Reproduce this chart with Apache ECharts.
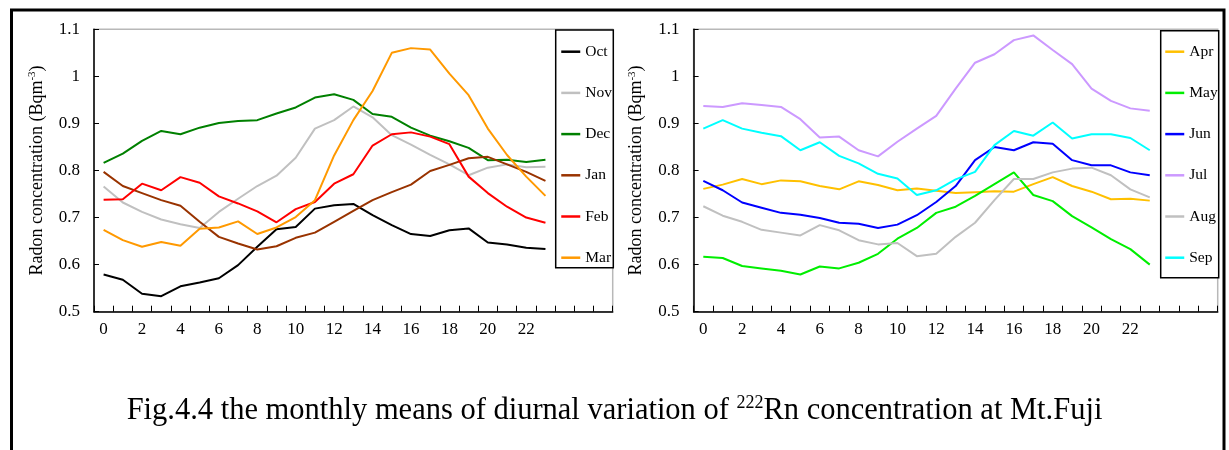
<!DOCTYPE html>
<html>
<head>
<meta charset="utf-8">
<script src="https://cdn.jsdelivr.net/npm/echarts@6/dist/echarts.min.js"></script>
<style>
html,body{margin:0;padding:0;background:#fff;}
#chart{width:1229px;height:450px;}
</style>
</head>
<body>
<div id="chart"></div>
<script>
// ---- data ----
var hours = [0,1,2,3,4,5,6,7,8,9,10,11,12,13,14,15,16,17,18,19,20,21,22,23];
var padCats = ['', '', ''];
var yTicks = [0.5, 0.6, 0.7, 0.8, 0.9, 1.0, 1.1];

var leftMonths = ['Oct','Nov','Dec','Jan','Feb','Mar'];
var rightMonths = ['Apr','May','Jun','Jul','Aug','Sep'];

var oct = [0.579,0.568,0.538,0.533,0.554,0.562,0.571,0.599,0.638,0.675,0.680,0.719,0.726,0.729,0.705,0.684,0.665,0.661,0.673,0.677,0.647,0.643,0.636,0.633];
var nov = [0.766,0.732,0.712,0.696,0.686,0.678,0.712,0.740,0.767,0.789,0.827,0.889,0.907,0.936,0.913,0.875,0.855,0.833,0.813,0.790,0.806,0.813,0.807,0.808];
var dec = [0.816,0.836,0.863,0.884,0.877,0.891,0.901,0.905,0.907,0.921,0.934,0.955,0.962,0.950,0.920,0.914,0.891,0.874,0.862,0.848,0.822,0.823,0.818,0.823];
var jan = [0.797,0.767,0.752,0.737,0.725,0.691,0.659,0.645,0.632,0.639,0.657,0.668,0.691,0.714,0.737,0.754,0.770,0.799,0.812,0.826,0.829,0.813,0.797,0.778];
var feb = [0.738,0.739,0.772,0.758,0.786,0.774,0.745,0.730,0.713,0.690,0.718,0.733,0.772,0.792,0.853,0.877,0.881,0.872,0.856,0.787,0.752,0.723,0.700,0.689];
var mar = [0.674,0.652,0.638,0.648,0.640,0.676,0.679,0.692,0.665,0.679,0.701,0.737,0.832,0.907,0.969,1.050,1.060,1.057,1.006,0.960,0.889,0.833,0.787,0.746];

var apr = [0.761,0.770,0.782,0.771,0.779,0.777,0.767,0.760,0.777,0.769,0.758,0.762,0.757,0.752,0.754,0.756,0.755,0.771,0.786,0.767,0.755,0.739,0.740,0.736];
var may = [0.617,0.614,0.597,0.592,0.587,0.579,0.596,0.592,0.604,0.623,0.655,0.678,0.710,0.723,0.746,0.771,0.796,0.748,0.735,0.703,0.679,0.654,0.633,0.600];
var jun = [0.778,0.758,0.732,0.721,0.710,0.706,0.699,0.689,0.687,0.678,0.685,0.705,0.733,0.767,0.822,0.850,0.843,0.860,0.857,0.822,0.811,0.811,0.796,0.790];
var jul = [0.937,0.935,0.943,0.939,0.935,0.909,0.870,0.872,0.843,0.830,0.861,0.889,0.916,0.974,1.029,1.047,1.077,1.087,1.056,1.026,0.974,0.948,0.932,0.927];
var aug = [0.724,0.704,0.691,0.674,0.668,0.662,0.684,0.673,0.652,0.643,0.646,0.618,0.623,0.659,0.689,0.737,0.782,0.782,0.796,0.804,0.806,0.790,0.760,0.743];
var sep = [0.889,0.907,0.889,0.880,0.873,0.843,0.860,0.831,0.815,0.793,0.783,0.748,0.758,0.781,0.797,0.854,0.884,0.874,0.902,0.868,0.877,0.877,0.869,0.843];

var leftData = [oct, nov, dec, jan, feb, mar];
var rightData = [apr, may, jun, jul, aug, sep];
var leftColors = ['#000000','#c0c0c0','#008000','#993300','#ff0000','#ff9900'];
var rightColors = ['#ffc000','#00ee00','#0000ff','#cc99ff','#c0c0c0','#00ffff'];

var yTitle = '{a|Radon concentration (Bqm}{s|-3}{a|)}';
var caption = '{a|Fig.4.4 the monthly means of diurnal variation of }{s|222}{a|Rn concentration at Mt.Fuji}';

// ---- build ----
var FONT = '"Liberation Serif", "Times New Roman", serif';
var cats = hours.map(String).concat(padCats);

function xAxisCfg(gi) {
  return {
    type: 'category', gridIndex: gi, data: cats, boundaryGap: true,
    axisLine: { lineStyle: { color: '#000', width: 1.5 } },
    axisTick: { show: true, inside: true, length: 6, interval: 0, lineStyle: { color: '#000', width: 1 } },
    axisLabel: { interval: 1, color: '#000', fontFamily: FONT, fontSize: 17, margin: 9 },
    splitLine: { show: false }
  };
}
function yAxisCfg(gi) {
  return {
    type: 'value', gridIndex: gi, min: yTicks[0], max: yTicks[yTicks.length - 1], interval: 0.1,
    axisLine: { show: true, lineStyle: { color: '#000', width: 1.5 } },
    axisTick: { show: true, inside: true, length: 5, lineStyle: { color: '#000' } },
    axisLabel: { color: '#000', fontFamily: FONT, fontSize: 17, margin: 14,
      formatter: function (v) { return String(Math.round(v * 10) / 10); } },
    splitLine: { show: false },
    name: yTitle, nameLocation: 'middle', nameGap: 47, nameRotate: 90,
    nameTextStyle: {
      rich: {
        a: { fontFamily: FONT, fontSize: 18, color: '#000', lineHeight: 20 },
        s: { fontFamily: FONT, fontSize: 11, color: '#000', verticalAlign: 'top', lineHeight: 20, padding: [0, 0, 8, 0] }
      }
    }
  };
}

var series = [];
leftMonths.forEach(function (m, i) {
  series.push({ name: m, type: 'line', xAxisIndex: 0, yAxisIndex: 0, data: leftData[i],
    symbol: 'none', lineStyle: { color: leftColors[i], width: 2 }, itemStyle: { color: leftColors[i] } });
});
rightMonths.forEach(function (m, i) {
  series.push({ name: m, type: 'line', xAxisIndex: 1, yAxisIndex: 1, data: rightData[i],
    symbol: 'none', lineStyle: { color: rightColors[i], width: 2 }, itemStyle: { color: rightColors[i] } });
});

function legendCfg(names, left) {
  return {
    data: names, orient: 'vertical', left: left, top: 43.7, padding: 0,
    itemWidth: 19, itemHeight: 14, itemGap: 25.2, z: 6,
    itemStyle: { opacity: 0 },
    lineStyle: { width: 2.5 },
    textStyle: { fontFamily: FONT, fontSize: 15.5, color: '#000', lineHeight: 16 },
    selectedMode: false
  };
}

var option = {
  animation: false,
  backgroundColor: '#fff',
  title: {
    text: caption, left: 'center', top: 389,
    textStyle: {
      fontWeight: 'normal',
      rich: {
        a: { fontFamily: FONT, fontSize: 30.5, fontWeight: 'normal', color: '#000', lineHeight: 34 },
        s: { fontFamily: FONT, fontSize: 18, fontWeight: 'normal', color: '#000', verticalAlign: 'top', lineHeight: 34, padding: [0, 0, 14, 0] }
      }
    }
  },
  grid: [
    { left: 94, top: 29.3, width: 518.7, height: 282.4, show: true, borderColor: '#b8b8b8', borderWidth: 1.5, backgroundColor: 'transparent' },
    { left: 693.6, top: 29.3, width: 524.1, height: 282.4, show: true, borderColor: '#b8b8b8', borderWidth: 1.5, backgroundColor: 'transparent' }
  ],
  xAxis: [xAxisCfg(0), xAxisCfg(1)],
  yAxis: [yAxisCfg(0), yAxisCfg(1)],
  legend: [legendCfg(leftMonths, 560), legendCfg(rightMonths, 1164)],
  graphic: [
    { type: 'rect', z: 5, shape: { x: 555.7, y: 30, width: 57.6, height: 237.7 },
      style: { fill: '#fff', stroke: '#000', lineWidth: 1.5 } },
    { type: 'rect', z: 5, shape: { x: 1160.7, y: 30.7, width: 58, height: 247 },
      style: { fill: '#fff', stroke: '#000', lineWidth: 1.5 } },
    { type: 'rect', z: 20, shape: { x: 11.5, y: 10, width: 1212.5, height: 460 },
      style: { fill: 'none', stroke: '#000', lineWidth: 3 } }
  ],
  series: series
};

var chart = echarts.init(document.getElementById('chart'), null, { renderer: 'canvas' });
chart.setOption(option);
</script>
</body>
</html>
